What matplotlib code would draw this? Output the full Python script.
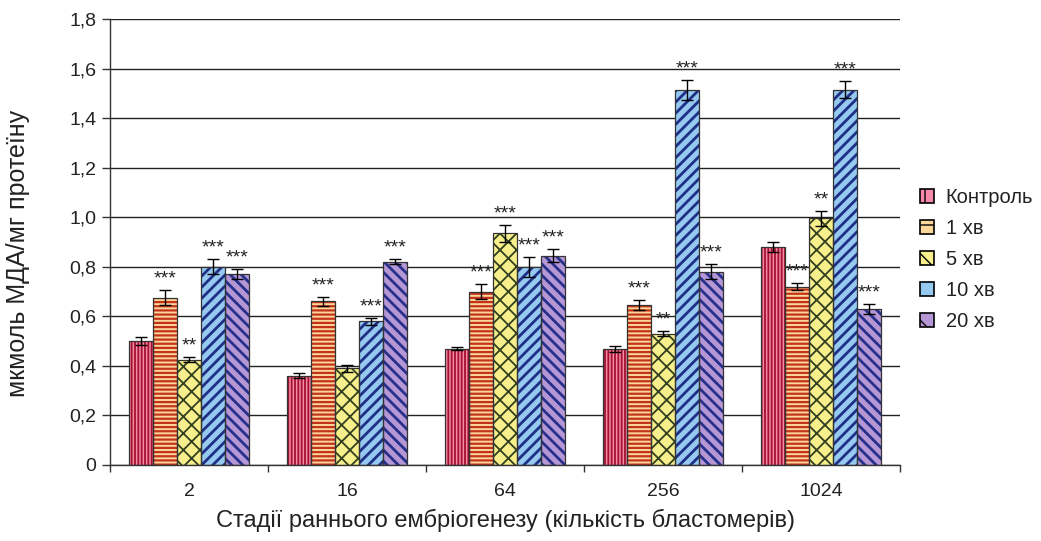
import numpy as np
import matplotlib
matplotlib.use("Agg")
import matplotlib.pyplot as plt
from matplotlib.patches import Patch

plt.rcParams['font.family'] = ['Liberation Sans', 'DejaVu Sans']

# Стадії та серії
stages = ["2", "16", "64", "256", "1024"]
series = ["Контроль", "1 хв", "5 хв", "10 хв", "20 хв"]

control = [0.50, 0.36, 0.47, 0.47, 0.88]
min1 = [0.675, 0.66, 0.70, 0.645, 0.72]
min5 = [0.425, 0.39, 0.935, 0.53, 0.995]
min10 = [0.80, 0.58, 0.80, 1.515, 1.515]
min20 = [0.77, 0.82, 0.845, 0.78, 0.63]

err_control = [0.015, 0.01, 0.005, 0.012, 0.02]
err_min1 = [0.03, 0.02, 0.03, 0.02, 0.015]
err_min5 = [0.01, 0.015, 0.035, 0.01, 0.03]
err_min10 = [0.03, 0.015, 0.04, 0.04, 0.035]
err_min20 = [0.02, 0.01, 0.025, 0.03, 0.02]

sig_control = ["", "", "", "", ""]
sig_min1 = ["***", "***", "***", "***", "***"]
sig_min5 = ["**", "", "***", "**", "**"]
sig_min10 = ["***", "***", "***", "***", "***"]
sig_min20 = ["***", "***", "***", "***", "***"]

values = [control, min1, min5, min10, min20]
errors = [err_control, err_min1, err_min5, err_min10, err_min20]
sigs = [sig_control, sig_min1, sig_min5, sig_min10, sig_min20]

# стиль: колір заливки, колір штрихування, штрихування, товщина штриха
faces = ["#f48aa8", "#fbd79a", "#f7ef8c", "#95c9f0", "#b597d6"]
hatchcol = ["#a3112e", "#c4321c", "#33401f", "#1f2f85", "#27308a"]
hatches = ["|||||", "----", "xx", "///", "\\\\\\"]
hatch_lw = [1.3, 1.6, 1.3, 2.0, 2.0]

fig = plt.figure(figsize=(10.41, 5.41), dpi=100)
ax = fig.add_axes([0.1057, 0.1405, 0.759, 0.8244])

x = np.arange(len(stages))
w = 0.152

for i in range(len(series)):
    pos = x - 2 * w + i * w
    with plt.rc_context({'hatch.linewidth': hatch_lw[i]}):
        ax.bar(pos, values[i], w, color=faces[i], edgecolor=hatchcol[i],
               hatch=hatches[i], linewidth=0, zorder=2)
    ax.bar(pos, values[i], w, facecolor="none", edgecolor="#333333",
           linewidth=0.9, zorder=3)
    ax.errorbar(pos, values[i], yerr=errors[i], fmt="none", ecolor="black",
                elinewidth=1, capsize=4, capthick=1, zorder=4)
    for j in range(len(stages)):
        if sigs[i][j]:
            ax.text(pos[j], values[i][j] + errors[i][j] + 0.01, sigs[i][j],
                    ha="center", va="bottom", fontsize=14, color="#222222", zorder=5)

ax.set_xlim(-0.5, len(stages) - 0.5)
ax.set_ylim(0, 1.8)
ax.set_yticks(np.arange(0, 1.81, 0.2))
ax.set_yticklabels(["0"] + [f"{v:.1f}".replace(".", ",") for v in np.arange(0.2, 1.81, 0.2)])
ax.set_xticks(x)
ax.set_xticklabels(stages)
ax.set_xticks(np.arange(-0.5, len(stages)), minor=True)
ax.tick_params(axis="x", which="major", length=0, labelsize=14, pad=13,
               labelcolor="#222222")
ax.tick_params(axis="x", which="minor", length=5, width=1, color="#333333")
ax.tick_params(axis="y", length=6, width=1, color="#333333", labelsize=14,
               labelcolor="#222222", pad=4)
ax.yaxis.grid(True, color="#222222", linewidth=1)
ax.set_axisbelow(True)
for s in ["top", "right"]:
    ax.spines[s].set_visible(False)
for s in ["left", "bottom"]:
    ax.spines[s].set_color("#333333")
    ax.spines[s].set_linewidth(1)

ax.set_ylabel("мкмоль МДА/мг протеїну", fontsize=18, color="#222222")
ax.yaxis.set_label_coords(-0.101, 0.475)
ax.set_xlabel("Стадії раннього ембріогенезу (кількість бластомерів)", fontsize=17,
              color="#222222", labelpad=6)

handles = []
for i in range(len(series)):
    handles.append(Patch(facecolor=faces[i], edgecolor="black", linewidth=1.2,
                         hatch=hatches[i][:1]))
leg = fig.legend(handles, series, loc="center left", bbox_to_anchor=(0.866, 0.52),
                 frameon=False, fontsize=14.5, handlelength=0.7, handleheight=0.7,
                 handletextpad=0.6, labelspacing=0.6)
for t in leg.get_texts():
    t.set_color("#222222")

fig.savefig("out.png", dpi=100)
